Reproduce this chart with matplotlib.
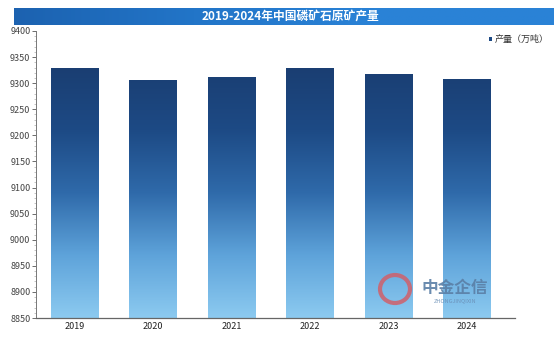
import matplotlib
matplotlib.use("Agg")
import matplotlib.pyplot as plt
import numpy as np
from matplotlib.colors import LinearSegmentedColormap
from matplotlib.patches import Rectangle, Ellipse

plt.rcParams['font.family'] = ['Noto Sans CJK SC', 'DejaVu Sans']

years = ['2019', '2020', '2021', '2022', '2023', '2024']
production = [9329, 9306, 9312, 9329, 9318, 9308]
yticks = [8850, 8900, 8950, 9000, 9050, 9100, 9150, 9200, 9250, 9300, 9350, 9400]
title = '2019-2024年中国磷矿石原矿产量'
legend_label = '产量（万吨）'

W, H = 554, 342
fig = plt.figure(figsize=(W / 100, H / 100), dpi=100)
fig.patch.set_facecolor('white')

# title band with gradient
band = fig.add_axes([14 / W, 1 - 25 / H, 540 / W, 17 / H])
band.axis('off')
grad = np.linspace(0, 1, 256).reshape(1, -1)
band_cmap = LinearSegmentedColormap.from_list('band', ['#1c62b0', '#2275c8', '#2a82d6', '#2a82d6'])
band.imshow(grad, aspect='auto', cmap=band_cmap, extent=[0, 1, 0, 1])
band.set_xlim(0, 1); band.set_ylim(0, 1)
fig.text(290 / W, 1 - 16.5 / H, title, color='white', fontsize=8.5, fontweight='bold',
         ha='center', va='center')

ax = fig.add_axes([36 / W, 1 - 318 / H, (515 - 36) / W, (318 - 31) / H])
x = np.arange(len(years))
bars = ax.bar(x, production, width=0.61, bottom=0, color='none', edgecolor='none')

cmap = LinearSegmentedColormap.from_list('bars', ['#8ccaf0', '#5ea3da', '#2f6aaa', '#1d4a85', '#1a3e72'])
gy = np.linspace(0, 1, 256).reshape(-1, 1)
for b in bars:
    x0 = b.get_x(); w = b.get_width(); top = b.get_height()
    im = ax.imshow(gy, aspect='auto', cmap=cmap, origin='lower',
                   extent=[x0, x0 + w, 8850, 9330], zorder=2)
    clip = Rectangle((x0, 8850), w, top - 8850, transform=ax.transData)
    im.set_clip_path(clip)
ax.set_xlim(-0.49, len(years) - 1 + 0.61)
ax.set_ylim(8850, 9400)

ax.set_yticks(yticks)
ax.set_yticklabels([str(t) for t in yticks])
ax.set_yticks(np.arange(8850, 9401, 10), minor=True)
ax.set_xticks(x)
ax.set_xticklabels(years)
ax.tick_params(axis='y', labelsize=6.5, colors='#555555', length=3, width=0.6, pad=1, labelcolor='#444444')
ax.tick_params(axis='y', which='minor', length=1.5, width=0.4, colors='#999999')
ax.tick_params(axis='x', labelsize=6.5, length=0, pad=3, labelcolor='#222222')
for s in ['top', 'right']:
    ax.spines[s].set_visible(False)
ax.spines['left'].set_color('#777777'); ax.spines['left'].set_linewidth(0.7)
ax.spines['bottom'].set_color('#666666'); ax.spines['bottom'].set_linewidth(0.9)
ax.patch.set_alpha(0)

# legend
fig.patches.append(Rectangle((489 / W, 1 - 40.5 / H), 3 / W, 3 / H, transform=fig.transFigure,
                             facecolor='#1d4a85', edgecolor='none'))
fig.text(495 / W, 1 - 39 / H, legend_label, fontsize=6.5, color='#333333', ha='left', va='center')

# watermark
fig.patches.append(Ellipse((395 / W, 1 - 289 / H), 30 / W, 28 / H, transform=fig.transFigure,
                           facecolor='none', edgecolor='#d0606a', linewidth=3, alpha=0.85, zorder=5))
fig.text(455 / W, 1 - 288 / H, '中金企信', fontsize=12, color='#5a7fa6', ha='center', va='center',
         fontweight='bold', alpha=0.9, zorder=5)
fig.text(455 / W, 1 - 300.5 / H, 'ZHONGJINQIXIN', fontsize=4, color='#6a8fb6', ha='center',
         va='center', alpha=0.9, zorder=5)

fig.savefig('out.png', dpi=100, facecolor='white')
